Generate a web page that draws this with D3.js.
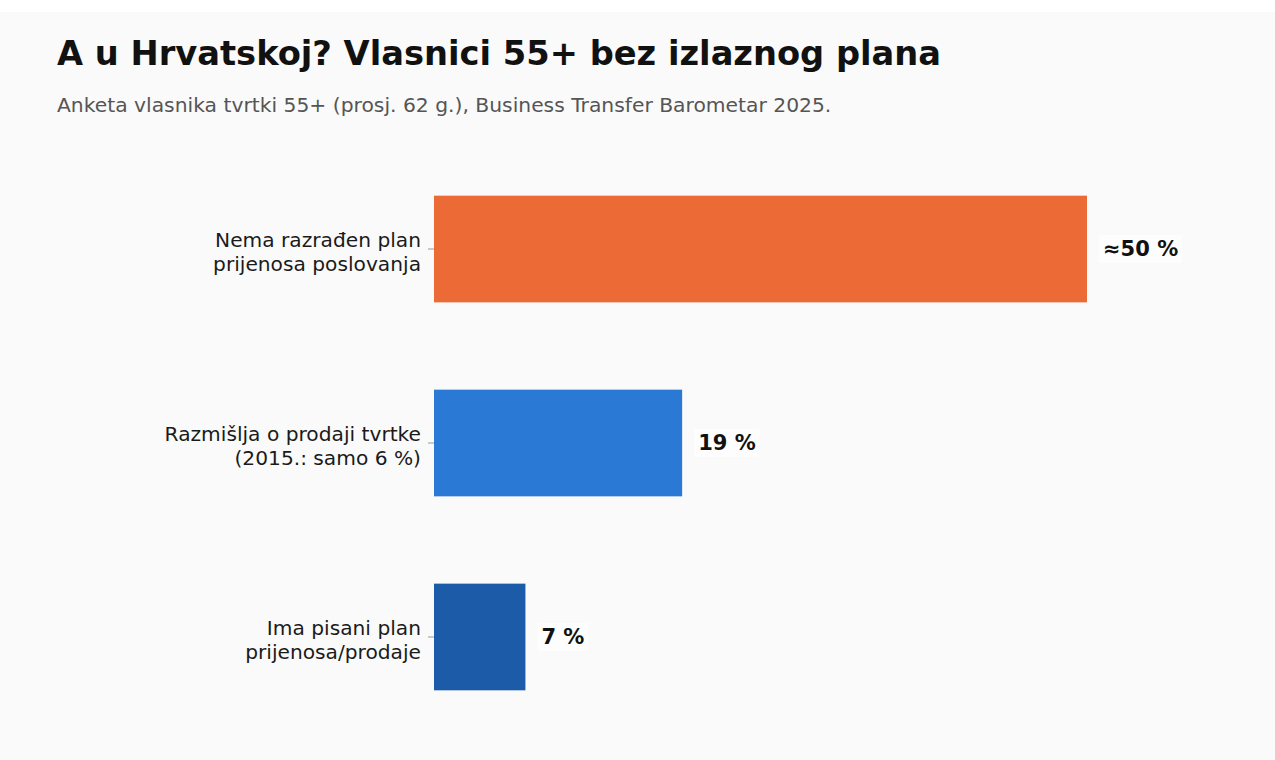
<!DOCTYPE html>
<html>
<head>
<meta charset="utf-8">
<script src="https://cdn.jsdelivr.net/npm/d3@7"></script>
<style>
  body { margin: 0; background: #ffffff; }
  svg { display: block; font-family: "DejaVu Sans", sans-serif; }
</style>
</head>
<body>
<div id="chart"></div>
<script>
// Data
const categories = [
  ['Nema razrađen plan', 'prijenosa poslovanja'],
  ['Razmišlja o prodaji tvrtke', '(2015.: samo 6 %)'],
  ['Ima pisani plan', 'prijenosa/prodaje']
];
const values = [50, 19, 7];
const valueLabels = ['≈50 %', '19 %', '7 %'];
const barColors = ['#EB6A35', '#2A7AD5', '#1C5BA8'];

const title = 'A u Hrvatskoj? Vlasnici 55+ bez izlaznog plana';
const subtitle = 'Anketa vlasnika tvrtki 55+ (prosj. 62 g.), Business Transfer Barometar 2025.';

const config = {
  width: 1275,
  height: 760,
  margin: {top: 153, right: 185, bottom: 30, left: 434}
};

const svg = d3.select('#chart').append('svg')
    .attr('width', config.width)
    .attr('height', config.height);

// panel background
svg.append('rect')
    .attr('x', 0)
    .attr('y', 12)
    .attr('width', config.width)
    .attr('height', config.height - 12)
    .attr('fill', '#fafafa');

svg.append('text')
    .attr('x', 57)
    .attr('y', 65)
    .attr('font-size', 33.7)
    .attr('font-weight', 'bold')
    .attr('fill', '#111')
    .text(title);

svg.append('text')
    .attr('x', 57)
    .attr('y', 112)
    .attr('font-size', 20.3)
    .attr('fill', '#555')
    .text(subtitle);

const chart = svg.append('g')
    .attr('transform', `translate(${config.margin.left},${config.margin.top})`);

// 50 % -> 653 px
const x = d3.scaleLinear().domain([0, 50]).range([0, 653]);
const y = d3.scaleBand()
    .domain(d3.range(values.length))
    .range([0, 580])
    .paddingInner(0.45)
    .paddingOuter(0.22);

// y axis ticks only
const yAxis = d3.axisLeft(y).tickSize(6).tickFormat('');
const axisG = chart.append('g').call(yAxis);
axisG.select('.domain').remove();
axisG.selectAll('.tick line').attr('stroke', '#999').attr('stroke-width', 1);

// category labels
const labelG = chart.selectAll('.cat-label')
    .data(categories)
  .join('text')
    .attr('class', 'cat-label')
    .attr('text-anchor', 'end')
    .attr('font-size', 20.2)
    .attr('fill', '#1a1a1a')
    .attr('x', -13)
    .attr('y', (d, i) => y(i) + y.bandwidth() / 2);

labelG.selectAll('tspan')
    .data(d => d)
  .join('tspan')
    .attr('x', -13)
    .attr('dy', (d, i) => i === 0 ? -2 : 24)
    .text(d => d);

// bars
chart.selectAll('.bar')
    .data(values)
  .join('rect')
    .attr('class', 'bar')
    .attr('x', 0)
    .attr('y', (d, i) => y(i))
    .attr('width', d => x(d))
    .attr('height', y.bandwidth())
    .attr('fill', (d, i) => barColors[i]);

// value labels with light box
const valG = chart.selectAll('.val')
    .data(values)
  .join('g')
    .attr('class', 'val')
    .attr('transform', (d, i) => `translate(${x(d) + 16},${y(i) + y.bandwidth() / 2})`);

valG.append('rect')
    .attr('x', -4)
    .attr('y', -14)
    .attr('height', 28)
    .attr('fill', '#ffffff')
    .attr('opacity', 0.6);

valG.append('text')
    .attr('font-size', 21)
    .attr('font-weight', 'bold')
    .attr('fill', '#111')
    .attr('dy', '0.35em')
    .text((d, i) => valueLabels[i]);

valG.each(function() {
  const t = d3.select(this).select('text').node().getBBox();
  d3.select(this).select('rect').attr('width', t.width + 8);
});
</script>
</body>
</html>
